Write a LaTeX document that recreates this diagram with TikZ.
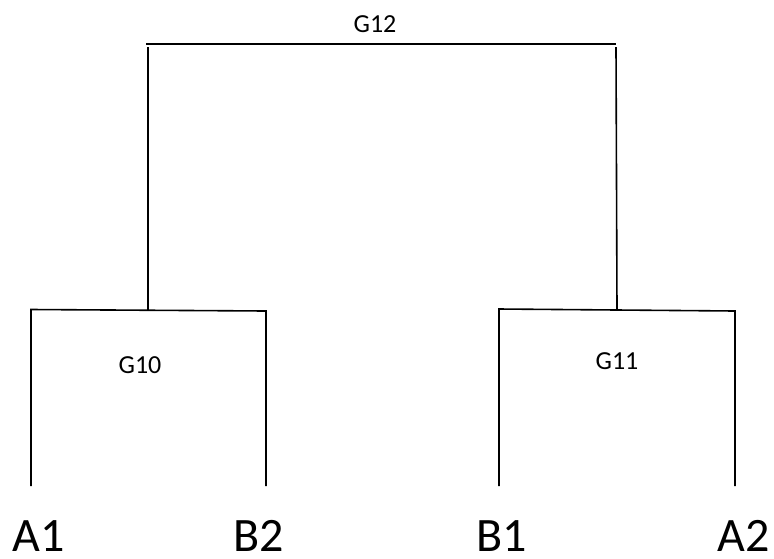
\documentclass[tikz,border=0pt]{standalone}
\usepackage{fontspec}
\setmainfont{Carlito}
\begin{document}
\begin{tikzpicture}[x=1pt,y=-1pt,
  branch/.style={line width=1.6pt,line cap=butt},
  leaf/.style={font=\fontsize{48}{48}\selectfont,anchor=base,inner sep=0pt,text depth=0pt},
  glabel/.style={font=\fontsize{26}{26}\selectfont,anchor=base,inner sep=0pt}]
\useasboundingbox (0,0) rectangle (774,558);
% leaf ends
\coordinate (a1) at (31,486);
\coordinate (b2) at (266,486);
\coordinate (b1) at (499,486);
\coordinate (a2) at (735,486);
% G10 bar
\coordinate (g10l) at (31,309.5);
\coordinate (g10r) at (266,311);
\coordinate (g10m) at (148,310);
% G11 bar
\coordinate (g11l) at (499,309);
\coordinate (g11r) at (735,311);
\coordinate (g11m) at (617,310);
% G12 bar
\coordinate (g12l) at (146,44);
\coordinate (g12r) at (616,44);
\coordinate (g12lv) at (148,47);
\coordinate (g12rv) at (616,47);
\draw[branch] (a1) -- (g10l) -- (g10r) -- (b2);
\draw[branch] (b1) -- (g11l) -- (g11r) -- (a2);
\draw[branch] (g12l) -- (g12r);
\draw[branch] (g10m) -- (g12lv);
\draw[branch] (g11m) -- (g12rv);
% labels
\node[leaf] (A1) at (39,551) {A1};
\node[leaf] (B2) at (259,551) {B2};
\node[leaf] (B1) at (502,551) {B1};
\node[leaf] (A2) at (744,551) {A2};
\node[glabel] (G10) at (140,373) {G10};
\node[glabel] (G11) at (617,369) {G11};
\node[glabel] (G12) at (375,32) {G12};
\end{tikzpicture}
\end{document}
